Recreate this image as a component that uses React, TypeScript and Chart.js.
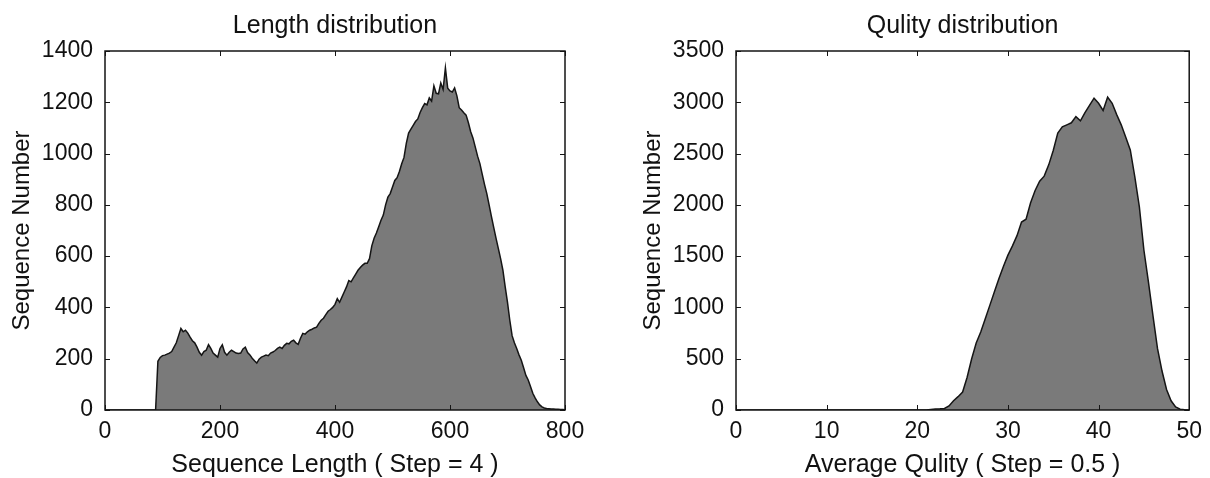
import React, { useEffect, useRef } from 'react';
import { Chart, registerables } from 'chart.js';

Chart.register(...registerables);

// ---- Length histogram (bin step = 4, bins start at 0) ----
const LENGTH_STEP = 4;
const LENGTH_COUNTS = [
  // 0 - 88
  0, 0, 0, 0, 0, 0, 0, 0, 0, 0,
  0, 0, 0, 0, 0, 0, 0, 0, 0, 0,
  0, 0, 0,
  // 92 - 128
  190, 205, 212, 214, 218, 222, 228, 245, 262, 290,
  // 132 - 168
  318, 305, 311, 300, 284, 270, 262, 245, 225, 214,
  // 172 - 208
  228, 233, 255, 240, 222, 214, 206, 240, 254, 225,
  // 212 - 248
  214, 225, 233, 228, 222, 220, 222, 238, 245, 224,
  // 252 - 288
  215, 202, 192, 183, 198, 206, 210, 214, 212, 222,
  // 292 - 328
  226, 232, 240, 245, 240, 252, 260, 258, 268, 272,
  // 332 - 368
  262, 256, 280, 299, 296, 305, 311, 315, 320, 323,
  // 372 - 408
  338, 350, 358, 372, 385, 392, 400, 412, 434, 420,
  // 412 - 448
  440, 460, 480, 505, 500, 515, 530, 545, 556, 565,
  // 452 - 488
  572, 572, 590, 640, 670, 690, 715, 740, 760, 800,
  // 492 - 528
  830, 844, 870, 895, 906, 930, 960, 985, 1040, 1080,
  // 532 - 568
  1095, 1110, 1125, 1135, 1160, 1179, 1195, 1190, 1217, 1205,
  // 572 - 608
  1264, 1235, 1233, 1275, 1250, 1334, 1255, 1244, 1240, 1256,
  // 612 - 648
  1225, 1179, 1170, 1159, 1150, 1120, 1085, 1060, 1025, 990,
  // 652 - 688
  961, 920, 880, 844, 800, 755, 712, 670, 630, 590,
  // 692 - 728
  545, 480, 420, 350, 290, 262, 240, 215, 194, 165,
  // 732 - 768
  135, 117, 92, 65, 47, 32, 20, 12, 8, 6,
  // 772 - 800
  5, 4, 4, 3, 3, 2, 2, 1,
];
const LENGTH_X_RANGE = [0, 800];
const LENGTH_X_TICK_STEP = 200;
const LENGTH_Y_RANGE = [0, 1400];
const LENGTH_Y_TICK_STEP = 200;

// ---- Quality histogram (bin step = 0.5, bins start at 0) ----
const QUALITY_STEP = 0.5;
const QUALITY_COUNTS = [
  // 0 - 20.5
  0, 0, 0, 0, 0, 0, 0, 0, 0, 0,
  0, 0, 0, 0, 0, 0, 0, 0, 0, 0,
  0, 0, 0, 0, 0, 0, 0, 0, 0, 0,
  0, 0, 0, 0, 0, 0, 0, 0, 0, 0,
  0, 0,
  // 21 - 25.5
  0, 5, 10, 12, 15, 40, 90, 130, 175, 320,
  // 26 - 30.5
  500, 653, 760, 890, 1020, 1150, 1280, 1400, 1510, 1600,
  // 31 - 35.5
  1700, 1833, 1860, 2020, 2140, 2230, 2280, 2390, 2530, 2700,
  // 36 - 40.5
  2760, 2780, 2800, 2860, 2820, 2900, 2970, 3040, 2990, 2920,
  // 41 - 45.5
  3050, 2990, 2880, 2780, 2660, 2535, 2272, 1980, 1560, 1250,
  // 46 - 50
  920, 600, 380, 200, 90, 30, 8, 3, 0,
];
const QUALITY_X_RANGE = [0, 50];
const QUALITY_X_TICK_STEP = 10;
const QUALITY_Y_RANGE = [0, 3500];
const QUALITY_Y_TICK_STEP = 500;

const FONT_FAMILY = '"Liberation Sans", Arial, Helvetica, sans-serif';
const TEXT_COLOR = '#111111';
const FILL_COLOR = '#7a7a7a';
const LINE_COLOR = '#151515';

const framePlugin = {
  id: 'frameBox',
  afterDatasetsDraw(chart: any) {
    const { ctx, chartArea: a, scales } = chart;
    ctx.save();
    ctx.strokeStyle = LINE_COLOR;
    ctx.lineWidth = 1;
    const t = 5;
    ctx.beginPath();
    scales.x.ticks.forEach((tk: any) => {
      const px = Math.round(scales.x.getPixelForValue(tk.value)) + 0.5;
      ctx.moveTo(px, a.bottom);
      ctx.lineTo(px, a.bottom - t);
      ctx.moveTo(px, a.top);
      ctx.lineTo(px, a.top + t);
    });
    scales.y.ticks.forEach((tk: any) => {
      const py = Math.round(scales.y.getPixelForValue(tk.value)) + 0.5;
      ctx.moveTo(a.left, py);
      ctx.lineTo(a.left + t, py);
      ctx.moveTo(a.right, py);
      ctx.lineTo(a.right - t, py);
    });
    ctx.stroke();
    ctx.lineWidth = 1.5;
    ctx.strokeRect(a.left, a.top, a.right - a.left, a.bottom - a.top);
    ctx.restore();
  },
};

type HistProps = {
  counts: number[];
  step: number;
  xRange: number[];
  xTickStep: number;
  yRange: number[];
  yTickStep: number;
  title: string;
  xTitle: string;
  yTitle: string;
  width: number;
  height: number;
  padRight: number;
  left: number;
};

const plainLabel = (v: any) => String(v);

function Histogram(p: HistProps) {
  const ref = useRef<HTMLCanvasElement | null>(null);
  useEffect(() => {
    if (!ref.current) return;
    const points = p.counts.map((c, i) => ({ x: i * p.step, y: c }));
    const tickFont = { family: FONT_FAMILY, size: 23 };
    const titleFont = { family: FONT_FAMILY, size: 25, lineHeight: 1 };
    const chart = new Chart(ref.current, {
      type: 'line',
      data: {
        datasets: [
          {
            data: points,
            xAxisID: 'x',
            yAxisID: 'y',
            borderColor: LINE_COLOR,
            borderWidth: 1.5,
            backgroundColor: FILL_COLOR,
            fill: 'origin',
            pointRadius: 0,
            tension: 0,
          },
        ],
      },
      options: {
        animation: false,
        responsive: false,
        events: [],
        layout: { padding: { left: 0, right: p.padRight, top: 0, bottom: 0 } },
        plugins: {
          legend: { display: false },
          tooltip: { enabled: false },
          title: { display: false },
        },
        scales: {
          top: {
            type: 'linear',
            position: 'top',
            display: true,
            min: p.xRange[0],
            max: p.xRange[1],
            ticks: { display: false },
            grid: { display: false },
            border: { display: false },
            title: {
              display: true,
              text: p.title,
              color: TEXT_COLOR,
              font: titleFont,
              padding: { top: 14, bottom: 0 },
            },
            afterFit: (s: any) => {
              s.height = 51;
            },
          },
          x: {
            type: 'linear',
            position: 'bottom',
            min: p.xRange[0],
            max: p.xRange[1],
            ticks: {
              stepSize: p.xTickStep,
              color: TEXT_COLOR,
              font: tickFont,
              padding: 8,
              maxRotation: 0,
              autoSkip: false,
              callback: plainLabel,
            },
            grid: { display: false, drawTicks: false },
            border: { display: false },
            title: {
              display: true,
              text: p.xTitle,
              color: TEXT_COLOR,
              font: titleFont,
              padding: { top: 0, bottom: 0 },
            },
            afterFit: (s: any) => {
              s.height = 68;
            },
          },
          y: {
            type: 'linear',
            position: 'left',
            min: p.yRange[0],
            max: p.yRange[1],
            ticks: {
              stepSize: p.yTickStep,
              color: TEXT_COLOR,
              font: tickFont,
              padding: 12,
              autoSkip: false,
              callback: plainLabel,
            },
            grid: { display: false, drawTicks: false },
            border: { display: false },
            title: {
              display: true,
              text: p.yTitle,
              color: TEXT_COLOR,
              font: { family: FONT_FAMILY, size: 24, lineHeight: 1 },
              padding: { top: 10, bottom: 0 },
            },
            afterFit: (s: any) => {
              s.width = 105;
            },
          },
        },
      },
      plugins: [framePlugin],
    } as any);
    return () => chart.destroy();
  }, []);
  return (
    <canvas
      ref={ref}
      width={p.width}
      height={p.height}
      style={{ position: 'absolute', left: p.left, top: 0, width: p.width, height: p.height, display: 'block' }}
    />
  );
}

export default function App() {
  return (
    <div
      style={{
        position: 'absolute',
        left: 0,
        top: 0,
        width: 1210,
        height: 478,
        overflow: 'hidden',
        background: '#ffffff',
      }}
    >
      <Histogram
        counts={LENGTH_COUNTS}
        step={LENGTH_STEP}
        xRange={LENGTH_X_RANGE}
        xTickStep={LENGTH_X_TICK_STEP}
        yRange={LENGTH_Y_RANGE}
        yTickStep={LENGTH_Y_TICK_STEP}
        title="Length distribution"
        xTitle="Sequence Length ( Step = 4 )"
        yTitle="Sequence Number"
        width={600}
        height={478}
        padRight={35}
        left={0}
      />
      <Histogram
        counts={QUALITY_COUNTS}
        step={QUALITY_STEP}
        xRange={QUALITY_X_RANGE}
        xTickStep={QUALITY_X_TICK_STEP}
        yRange={QUALITY_Y_RANGE}
        yTickStep={QUALITY_Y_TICK_STEP}
        title="Qulity distribution"
        xTitle="Average Qulity ( Step = 0.5 )"
        yTitle="Sequence Number"
        width={579}
        height={478}
        padRight={13}
        left={631}
      />
    </div>
  );
}
